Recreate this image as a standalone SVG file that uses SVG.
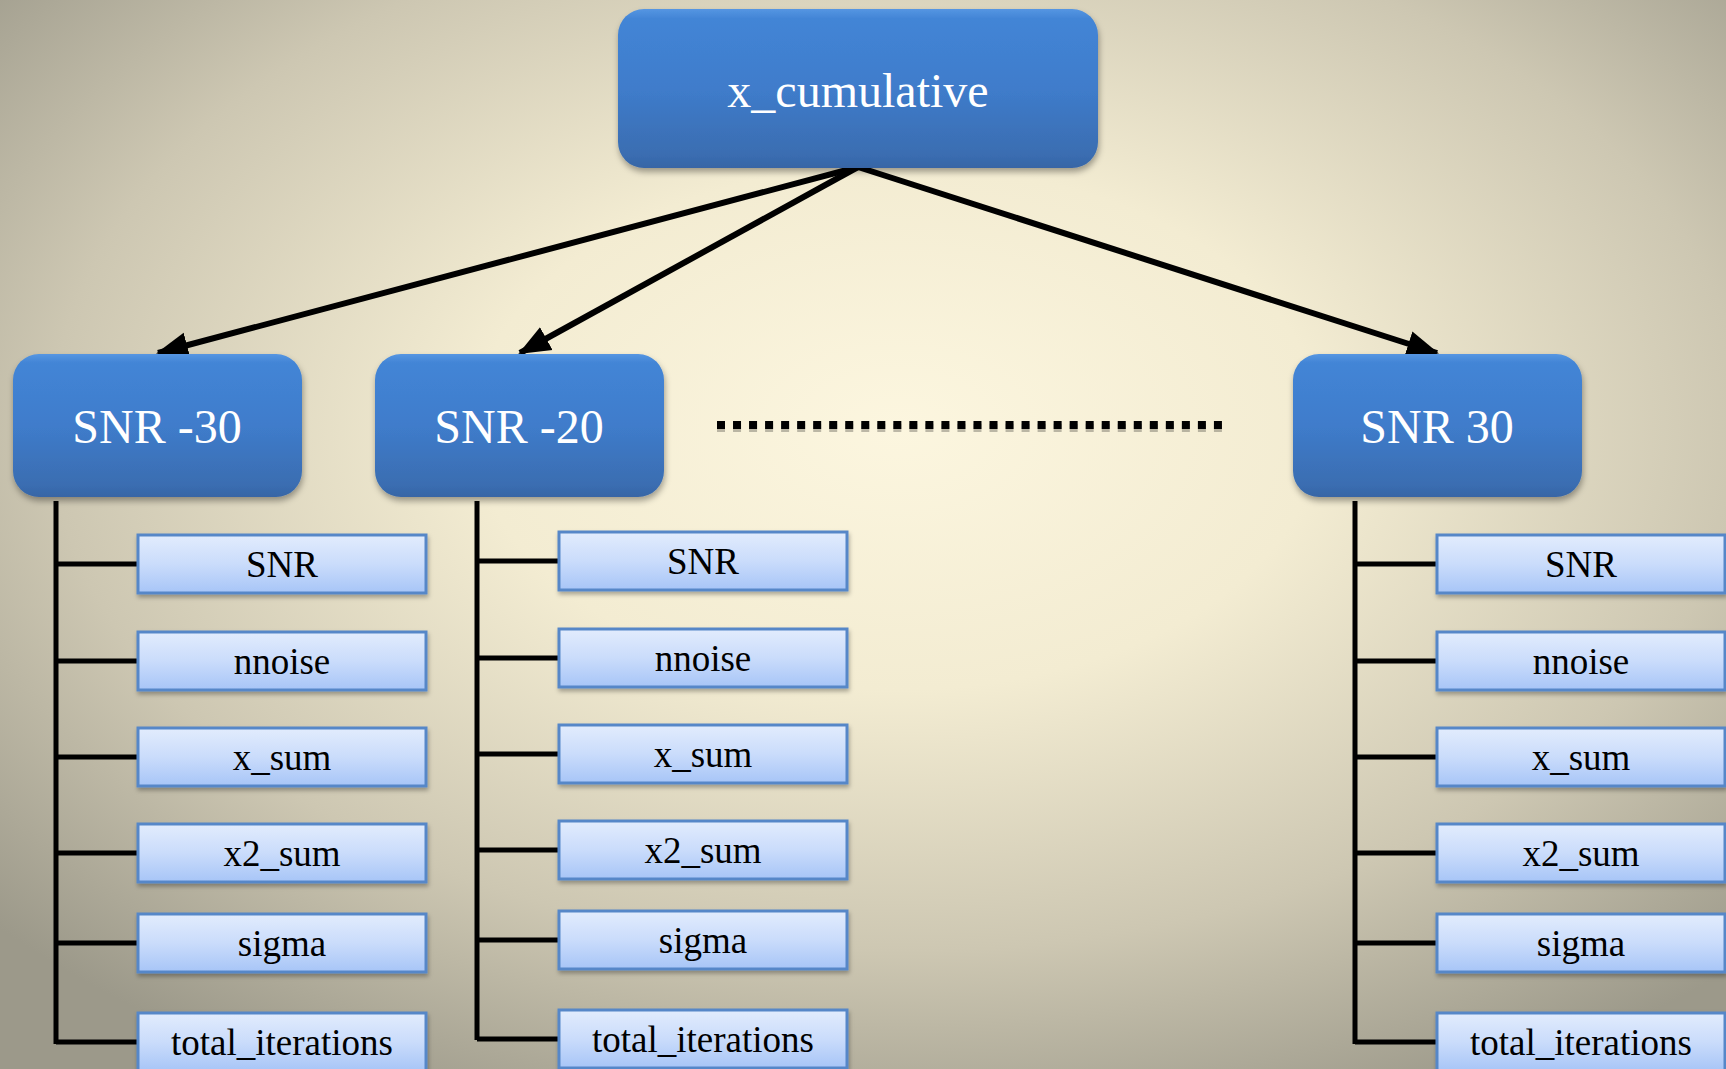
<svg xmlns="http://www.w3.org/2000/svg" width="1726" height="1069" viewBox="0 0 1726 1069">
<defs>
  <radialGradient id="bg" cx="52%" cy="40%" r="70%" fx="52%" fy="40%">
    <stop offset="0" stop-color="#fcf6df"/>
    <stop offset="0.35" stop-color="#f3ecd2"/>
    <stop offset="0.7" stop-color="#cdc7b2"/>
    <stop offset="1" stop-color="#9c998a"/>
  </radialGradient>
  <linearGradient id="blue" x1="0" y1="0" x2="0" y2="1">
    <stop offset="0" stop-color="#5596e2"/>
    <stop offset="0.06" stop-color="#4385d6"/>
    <stop offset="0.5" stop-color="#3f7ccb"/>
    <stop offset="0.92" stop-color="#3a6db1"/>
    <stop offset="1" stop-color="#3765a5"/>
  </linearGradient>
  <linearGradient id="light" x1="0" y1="0" x2="0" y2="1">
    <stop offset="0" stop-color="#e2ecfd"/>
    <stop offset="0.5" stop-color="#cadcfb"/>
    <stop offset="1" stop-color="#a7c5f7"/>
  </linearGradient>
  <filter id="shadow" x="-10%" y="-10%" width="120%" height="130%">
    <feDropShadow dx="1" dy="4" stdDeviation="3" flood-color="#000" flood-opacity="0.35"/>
  </filter>
  <filter id="sshadow" x="-10%" y="-20%" width="120%" height="150%">
    <feDropShadow dx="1" dy="3" stdDeviation="2" flood-color="#000" flood-opacity="0.3"/>
  </filter>
  <marker id="arrow" markerUnits="userSpaceOnUse" markerWidth="34" markerHeight="28" refX="30" refY="14" orient="auto">
    <path d="M0,1 L32,14 L0,27 Z" fill="#000"/>
  </marker>
  <style>
    .big { fill: url(#blue); filter: url(#shadow); }
    .bigtxt { font-family: "Liberation Serif", "Times New Roman", serif; font-size: 48px; fill: #fff; text-anchor: middle; }
    .leaf rect { fill: url(#light); stroke: #5687c8; stroke-width: 3; filter: url(#sshadow); }
    .leaf text { font-family: "Liberation Serif", "Times New Roman", serif; font-size: 37px; fill: #000; text-anchor: middle; }
    .tree { stroke: #000; stroke-width: 5; fill: none; }
    .arr { stroke: #000; stroke-width: 6; fill: none; marker-end: url(#arrow); }
  </style>
</defs>
<rect x="0" y="0" width="1726" height="1069" fill="url(#bg)"/>

<g id="connectors">
  <line class="arr" x1="858" y1="167" x2="158" y2="353"/>
  <line class="arr" x1="858" y1="167" x2="520" y2="353"/>
  <line class="arr" x1="858" y1="167" x2="1437" y2="353"/>
  <path class="tree" d="M56,501 V1044 M56,564 H138 M56,661 H138 M56,757 H138 M56,853 H138 M56,943 H138 M56,1042 H138"/>
  <path class="tree" d="M477,501 V1040 M477,561 H559 M477,658 H559 M477,754 H559 M477,850 H559 M477,940 H559 M477,1039 H559"/>
  <path class="tree" d="M1355,501 V1044 M1355,564 H1437 M1355,661 H1437 M1355,757 H1437 M1355,853 H1437 M1355,943 H1437 M1355,1042 H1437"/>
  <line x1="717" y1="428" x2="1222" y2="428" stroke="#000" stroke-opacity="0.25" stroke-width="8" stroke-dasharray="8 8.03"/>
  <line x1="717" y1="425" x2="1222" y2="425" stroke="#000" stroke-width="8" stroke-dasharray="8 8.03"/>
</g>

<g id="node-root">
  <rect class="big" x="618" y="9" width="480" height="159" rx="26"/>
  <text class="bigtxt" x="858" y="107">x_cumulative</text>
</g>
<g id="node-snr-m30">
  <rect class="big" x="13" y="354" width="289" height="143" rx="26"/>
  <text class="bigtxt" x="157" y="443">SNR -30</text>
</g>
<g id="node-snr-m20">
  <rect class="big" x="375" y="354" width="289" height="143" rx="26"/>
  <text class="bigtxt" x="519" y="443">SNR -20</text>
</g>
<g id="node-snr-30">
  <rect class="big" x="1293" y="354" width="289" height="143" rx="26"/>
  <text class="bigtxt" x="1437" y="443">SNR 30</text>
</g>

<g id="leaves-m30" class="leaf">
  <g id="m30-snr"><rect x="138" y="535" width="288" height="58"/><text x="282" y="577">SNR</text></g>
  <g id="m30-nnoise"><rect x="138" y="632" width="288" height="58"/><text x="282" y="674">nnoise</text></g>
  <g id="m30-xsum"><rect x="138" y="728" width="288" height="58"/><text x="282" y="770">x_sum</text></g>
  <g id="m30-x2sum"><rect x="138" y="824" width="288" height="58"/><text x="282" y="866">x2_sum</text></g>
  <g id="m30-sigma"><rect x="138" y="914" width="288" height="58"/><text x="282" y="956">sigma</text></g>
  <g id="m30-total"><rect x="138" y="1013" width="288" height="58"/><text x="282" y="1055">total_iterations</text></g>
</g>
<g id="leaves-m20" class="leaf">
  <g id="m20-snr"><rect x="559" y="532" width="288" height="58"/><text x="703" y="574">SNR</text></g>
  <g id="m20-nnoise"><rect x="559" y="629" width="288" height="58"/><text x="703" y="671">nnoise</text></g>
  <g id="m20-xsum"><rect x="559" y="725" width="288" height="58"/><text x="703" y="767">x_sum</text></g>
  <g id="m20-x2sum"><rect x="559" y="821" width="288" height="58"/><text x="703" y="863">x2_sum</text></g>
  <g id="m20-sigma"><rect x="559" y="911" width="288" height="58"/><text x="703" y="953">sigma</text></g>
  <g id="m20-total"><rect x="559" y="1010" width="288" height="58"/><text x="703" y="1052">total_iterations</text></g>
</g>
<g id="leaves-30" class="leaf">
  <g id="p30-snr"><rect x="1437" y="535" width="288" height="58"/><text x="1581" y="577">SNR</text></g>
  <g id="p30-nnoise"><rect x="1437" y="632" width="288" height="58"/><text x="1581" y="674">nnoise</text></g>
  <g id="p30-xsum"><rect x="1437" y="728" width="288" height="58"/><text x="1581" y="770">x_sum</text></g>
  <g id="p30-x2sum"><rect x="1437" y="824" width="288" height="58"/><text x="1581" y="866">x2_sum</text></g>
  <g id="p30-sigma"><rect x="1437" y="914" width="288" height="58"/><text x="1581" y="956">sigma</text></g>
  <g id="p30-total"><rect x="1437" y="1013" width="288" height="58"/><text x="1581" y="1055">total_iterations</text></g>
</g>
</svg>
